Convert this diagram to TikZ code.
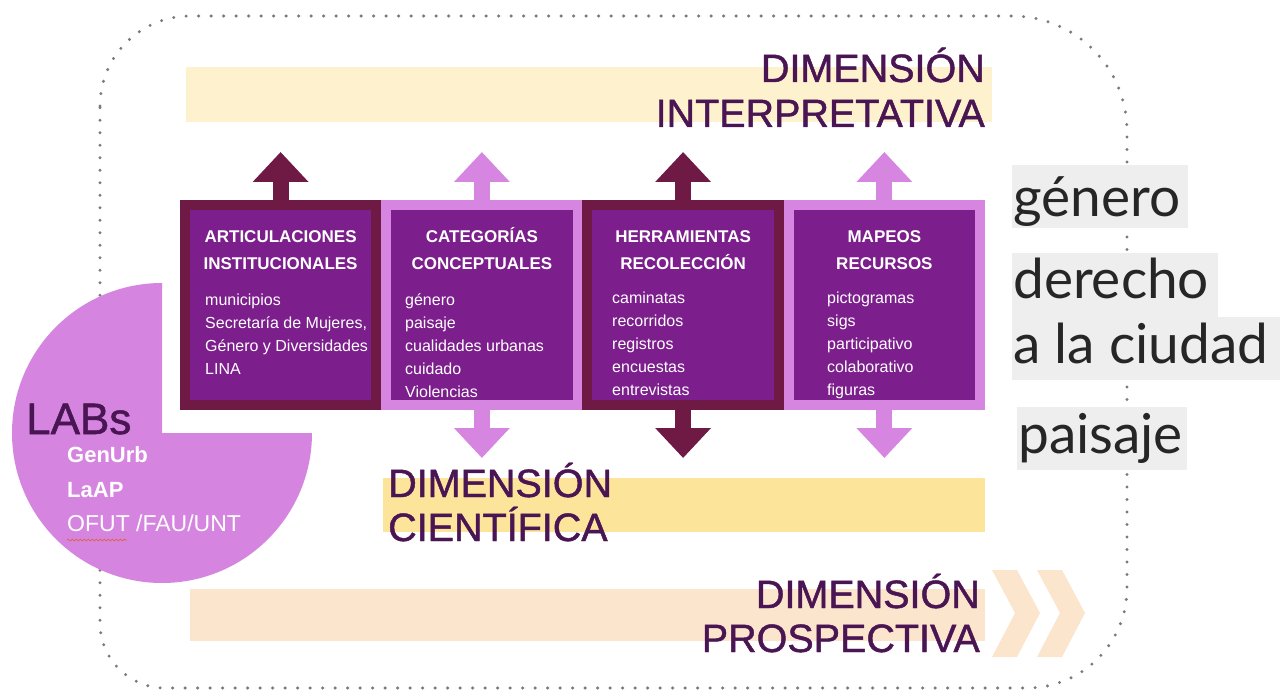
\documentclass[tikz,border=0pt]{standalone}
\usepackage{fontspec}
\setmainfont{Liberation Sans}
\newfontfamily\rightfont{Lato}
\newfontfamily\dimfont[FakeBold=1.2]{Liberation Sans}
\usetikzlibrary{arrows.meta,decorations.pathmorphing}

\definecolor{maroon}{HTML}{6E1A45}
\definecolor{purp}{HTML}{7C1F8C}
\definecolor{lilac}{HTML}{D685E1}
\definecolor{labc}{HTML}{D585E0}
\definecolor{dimtext}{HTML}{4A1553}
\definecolor{yelA}{HTML}{FEF2CE}
\definecolor{yelB}{HTML}{FDE49B}
\definecolor{peach}{HTML}{FCE5CD}
\definecolor{bggray}{HTML}{EEEEEE}
\definecolor{dotgray}{HTML}{7A7A7A}
\definecolor{squig}{HTML}{E0603A}

\begin{document}
\begin{tikzpicture}[x=1pt,y=-1pt,
  boxd/.style={draw=maroon, fill=purp, line width=10pt, minimum width=191.25pt, minimum height=200pt, inner sep=0pt},
  boxl/.style={draw=lilac, fill=purp, line width=10pt, minimum width=191.25pt, minimum height=200pt, inner sep=0pt},
  ttl/.style={text=white, font=\bfseries\fontsize{17}{20}\selectfont, anchor=base, inner sep=0pt},
  bdy/.style={text=white, font=\fontsize{16}{20}\selectfont, anchor=base west, inner sep=0pt},
  diml/.style={text=dimtext, font=\dimfont\fontsize{39.5}{45}\selectfont, inner sep=0pt},
  rtxt/.style={font=\rightfont\fontsize{55}{60}\selectfont, text=black!85, anchor=base west, inner sep=0pt},
  blockarr/.style={line width=16pt, -{Triangle[width=54pt,length=30pt]}},
  labsub/.style={text=white, anchor=base west, inner sep=0pt},
]
\useasboundingbox (0,0) rectangle (1282,695);

% dotted frame
\draw[dotgray, line width=3.3pt, line cap=round, dash pattern=on 0pt off 12.5pt]
  (100,106) arc[start angle=180, end angle=270, radius=90]
  -- (1012,16) arc[start angle=270, end angle=360, radius=115]
  -- (1127,588) arc[start angle=0, end angle=90, radius=100]
  -- (165,688) arc[start angle=90, end angle=180, radius=65]
  -- cycle;

% dimension banners
\fill[yelA] (186,67) rectangle (992,122);
\fill[yelB] (383,478) rectangle (985,532);
\fill[peach] (190,589) rectangle (985,641);
% chevrons
\fill[peach] (992,570) -- (1017,570) -- (1040,613) -- (1017,657) -- (992,657) -- (1015,613) -- cycle;
\fill[peach] (1037,570) -- (1062,570) -- (1085,613) -- (1062,657) -- (1037,657) -- (1060,613) -- cycle;

% LABs three-quarter disc
\fill[labc] (162,433) -- (312,433) arc[start angle=0, end angle=270, radius=150] -- cycle;
\node[text=dimtext, font=\dimfont\fontsize{44}{48}\selectfont, anchor=base west, inner sep=0pt] (labs) at (26,434) {LABs};
\node[labsub, font=\bfseries\fontsize{22}{24}\selectfont] (genurb) at (67,462) {GenUrb};
\node[labsub, font=\bfseries\fontsize{22}{24}\selectfont] (laap) at (67,497) {LaAP};
\node[labsub, font=\fontsize{23}{24}\selectfont] (ofut) at (67,531) {OFUT /FAU/UNT};
\draw[squig, line width=0.7pt, decorate, decoration={snake, amplitude=1pt, segment length=4pt}] (67,540) -- (127,540);

% boxes
\node[boxd] (b1) at (280.6,305) {};
\node[boxl] (b2) at (481.9,305) {};
\node[boxd] (b3) at (683.1,305) {};
\node[boxl] (b4) at (884.4,305) {};

% arrows
\coordinate (u1) at (280.6,152);
\coordinate (u2) at (481.9,152);
\coordinate (u3) at (683.1,152);
\coordinate (u4) at (884.4,152);
\coordinate (d2) at (481.9,458);
\coordinate (d3) at (683.1,458);
\coordinate (d4) at (884.4,458);
\draw[blockarr, maroon] (b1.north) -- (u1);
\draw[blockarr, lilac] (b2.north) -- (u2);
\draw[blockarr, maroon] (b3.north) -- (u3);
\draw[blockarr, lilac] (b4.north) -- (u4);
\draw[blockarr, lilac] (b2.south) -- (d2);
\draw[blockarr, maroon] (b3.south) -- (d3);
\draw[blockarr, lilac] (b4.south) -- (d4);

% box titles
\node[ttl] (t1a) at (280.6,243) {ARTICULACIONES};
\node[ttl] (t1b) at (280.6,269) {INSTITUCIONALES};
\node[ttl] (t2a) at (481.9,243) {CATEGORÍAS};
\node[ttl] (t2b) at (481.9,269) {CONCEPTUALES};
\node[ttl] (t3a) at (683.1,243) {HERRAMIENTAS};
\node[ttl] (t3b) at (683.1,269) {RECOLECCIÓN};
\node[ttl] (t4a) at (884.4,243) {MAPEOS};
\node[ttl] (t4b) at (884.4,269) {RECURSOS};

% box bodies
\foreach \t [count=\k] in {municipios, {Secretaría de Mujeres,}, Género y Diversidades, LINA}
  \node[bdy] (p1l\k) at (205,{305+23.2*(\k-1)}) {\t};
\foreach \t [count=\k] in {género, paisaje, cualidades urbanas, cuidado, Violencias}
  \node[bdy] (p2l\k) at (405,{305+23.2*(\k-1)}) {\t};
\foreach \t [count=\k] in {caminatas, recorridos, registros, encuestas, entrevistas}
  \node[bdy] (p3l\k) at (612,{303+23.2*(\k-1)}) {\t};
\foreach \t [count=\k] in {pictogramas, sigs, participativo, colaborativo, figuras}
  \node[bdy] (p4l\k) at (827,{303+23.2*(\k-1)}) {\t};

% dimension labels
\node[diml, anchor=base east] (di1) at (985,82) {DIMENSIÓN};
\node[diml, anchor=base east] (di2) at (985,127) {INTERPRETATIVA};
\node[diml, anchor=base west] (dc1) at (388,497) {DIMENSIÓN};
\node[diml, anchor=base west] (dc2) at (388,541) {CIENTÍFICA};
\node[diml, anchor=base east] (dp1) at (980,608) {DIMENSIÓN};
\node[diml, anchor=base east] (dp2) at (980,652) {PROSPECTIVA};

% right-hand terms
\fill[bggray] (1012,165) rectangle (1188,228);
\fill[bggray] (1012,253) rectangle (1218,317);
\fill[bggray] (1012,317) rectangle (1280,380);
\fill[bggray] (1017,407) rectangle (1187,470);
\node[rtxt] (r1) at (1013,217) {género};
\node[rtxt] (r2) at (1013,298) {derecho};
\node[rtxt] (r3) at (1013,363) {a la ciudad};
\node[rtxt] (r4) at (1018,453) {paisaje};
\end{tikzpicture}
\end{document}
